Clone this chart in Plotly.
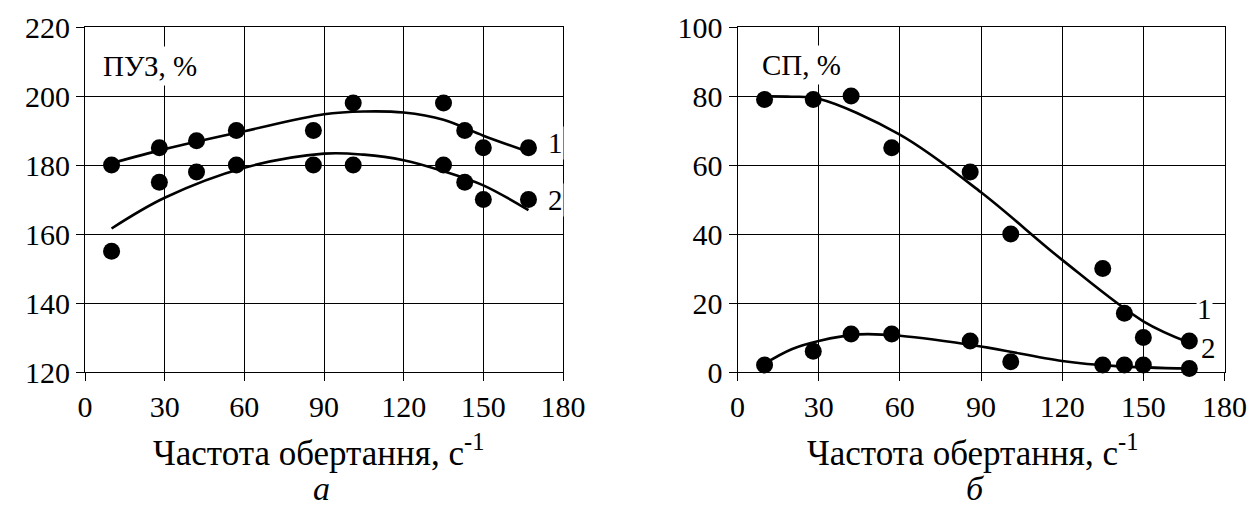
import plotly.graph_objects as go

# Measured points: rotation frequency, s^-1
freq = [10, 28, 42, 57, 86, 101, 135, 143, 150, 167]

# Panel "а": ПУЗ, %
puz_1 = [180, 185, 187, 190, 190, 198, 198, 190, 185, 185]
puz_2 = [155, 175, 178, 180, 180, 180, 180, 175, 170, 170]

# Panel "б": СП, %
sp_1 = [79, 79, 80, 65, 58, 40, 30, 17, 10, 9]
sp_2 = [2, 6, 11, 11, 9, 3, 2, 2, 2, 1]

# Trend lines
puz_1_trend_x = [10, 30, 60, 90, 105, 120, 135, 150, 167]
puz_1_trend_y = [180.5, 184.6, 189.8, 194.7, 195.5, 195.2, 193.1, 188.5, 183.8]
puz_2_trend_x = [10, 30, 60, 90, 105, 120, 135, 150, 167]
puz_2_trend_y = [161.6, 170.5, 179.2, 183.3, 183.0, 181.4, 178.2, 174.1, 166.9]

sp_1_trend_x = [10, 20, 30, 60, 90, 120, 150, 167]
sp_1_trend_y = [79.9, 79.8, 79.2, 68.8, 52.1, 32.5, 14.7, 8.5]
sp_2_trend_x = [10, 20, 30, 45, 60, 90, 120, 140, 167]
sp_2_trend_y = [2.4, 6.6, 9.0, 10.9, 10.5, 7.4, 3.2, 1.7, 1.0]

x_ticks = [0, 30, 60, 90, 120, 150, 180]

FONT = "'Liberation Serif', 'Times New Roman', 'DejaVu Serif', serif"
W, H = 1251, 508

fig = go.Figure()

line_style = dict(color="black", width=2.6, shape="spline", smoothing=1.0)
marker_style = dict(color="black", size=17, symbol="circle", line=dict(width=0))

for tx, ty, axes in [
    (puz_1_trend_x, puz_1_trend_y, ("x", "y")),
    (puz_2_trend_x, puz_2_trend_y, ("x", "y")),
    (sp_1_trend_x, sp_1_trend_y, ("x2", "y2")),
    (sp_2_trend_x, sp_2_trend_y, ("x2", "y2")),
]:
    fig.add_trace(go.Scatter(x=tx, y=ty, mode="lines", line=line_style,
                             xaxis=axes[0], yaxis=axes[1],
                             showlegend=False, hoverinfo="skip"))

for vals, axes in [
    (puz_1, ("x", "y")),
    (puz_2, ("x", "y")),
    (sp_1, ("x2", "y2")),
    (sp_2, ("x2", "y2")),
]:
    fig.add_trace(go.Scatter(x=freq, y=vals, mode="markers", marker=marker_style,
                             xaxis=axes[0], yaxis=axes[1],
                             showlegend=False, cliponaxis=False))

axis_common = dict(
    showgrid=True, gridcolor="black", gridwidth=1,
    showline=True, linecolor="black", linewidth=1, mirror=True,
    ticks="outside", ticklen=8, tickcolor="black", tickwidth=1,
    zeroline=False, automargin=False,
    tickfont=dict(family=FONT, size=30, color="black"),
)

y_bottom = (H - 372) / H
y_top = (H - 27) / H

fig.update_layout(
    width=W, height=H,
    margin=dict(l=0, r=0, t=0, b=0, pad=0),
    paper_bgcolor="white", plot_bgcolor="white",
    font=dict(family=FONT, color="black"),
    xaxis=dict(domain=[85 / W, 563 / W], range=[0, 180], tickvals=x_ticks,
               anchor="y", **axis_common),
    yaxis=dict(domain=[y_bottom, y_top], range=[120, 220], dtick=20,
               anchor="x", **axis_common),
    xaxis2=dict(domain=[737.5 / W, 1224.5 / W], range=[0, 180], tickvals=x_ticks,
                anchor="y2", **axis_common),
    yaxis2=dict(domain=[y_bottom, y_top], range=[0, 100], dtick=20,
                anchor="x2", **axis_common),
)

label_font = dict(family=FONT, size=29, color="black")
title_font = dict(family=FONT, size=35, color="black")
letter_font = dict(family=FONT, size=34, color="black")

center = dict(showarrow=False, xanchor="center", yanchor="middle")

annotations = [
    # quantity labels inside the plots
    dict(x=24.5, y=208.6, xref="x", yref="y", text="ПУЗ, %",
         font=label_font, bgcolor="white", borderpad=3, **center),
    dict(x=23.5, y=89, xref="x2", yref="y2", text="СП, %",
         font=label_font, bgcolor="white", borderpad=3, **center),
    # curve numbers
    dict(x=177, y=186.3, xref="x", yref="y", text="1",
         font=label_font, bgcolor="white", borderpad=0, **center),
    dict(x=177, y=170, xref="x", yref="y", text="2",
         font=label_font, bgcolor="white", borderpad=0, **center),
    dict(x=172.5, y=18.2, xref="x2", yref="y2", text="1",
         font=label_font, bgcolor="white", borderpad=0, **center),
    dict(x=174, y=7, xref="x2", yref="y2", text="2",
         font=label_font, bgcolor="white", borderpad=0, **center),
    # axis titles
    dict(x=88, y=(H - 450) / H, xref="x", yref="paper",
         text="Частота обертання, с<sup>-1</sup>", font=title_font, **center),
    dict(x=87, y=(H - 450) / H, xref="x2", yref="paper",
         text="Частота обертання, с<sup>-1</sup>", font=title_font, **center),
    # panel letters
    dict(x=89, y=(H - 488) / H, xref="x", yref="paper",
         text="<i>а</i>", font=letter_font, **center),
    dict(x=88, y=(H - 488) / H, xref="x2", yref="paper",
         text="<i>б</i>", font=letter_font, **center),
]
fig.update_layout(annotations=annotations)

fig.write_html("out.html")
